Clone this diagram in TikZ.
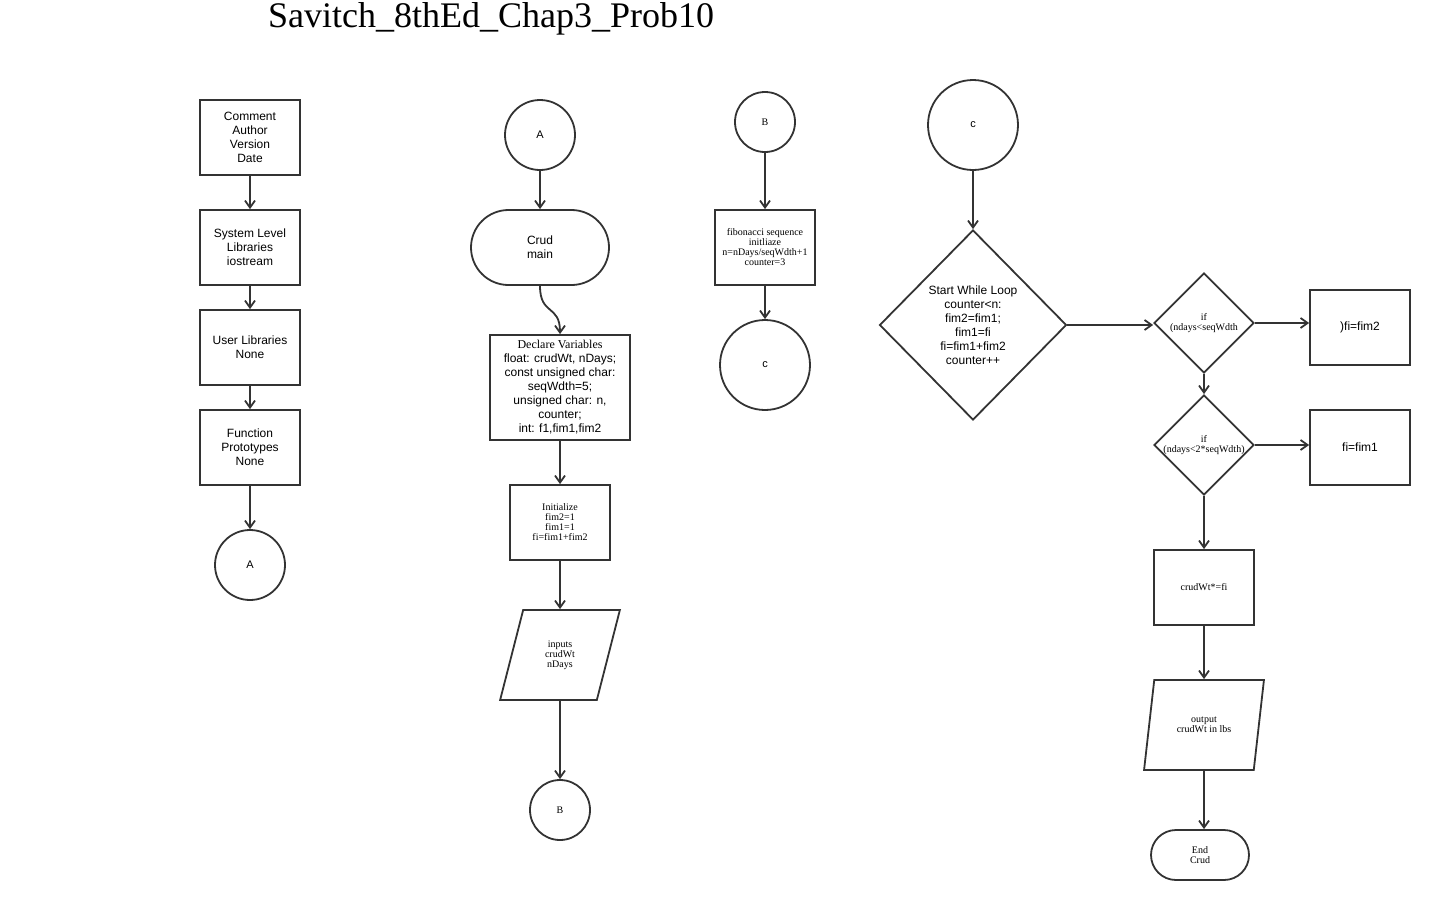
\documentclass[tikz,border=0pt]{standalone}
\usepackage{fontspec}
\setmainfont{Liberation Sans}
\newfontfamily\timesfont{Liberation Serif}
\usepackage{tikz}
\usetikzlibrary{shapes.geometric,shapes.misc,arrows.meta}
\colorlet{lineclr}{black!80}

\begin{document}
\begin{tikzpicture}[x=1pt,y=-1pt,line width=1.8pt,
  every node/.style={align=center,inner sep=1pt,font=\fontsize{12}{14}\selectfont},
  box/.style={rectangle,draw=lineclr,minimum width=100pt,minimum height=75pt},
  term/.style={rounded rectangle,draw=lineclr},
  io/.style={trapezium,trapezium left angle=72,trapezium right angle=108,
    trapezium stretches=true,draw=lineclr,minimum width=120pt,minimum height=90pt},
  dec/.style={diamond,draw=lineclr,inner sep=0pt},
  conn/.style={circle,draw=lineclr,minimum size=70pt},
  ser/.style={font=\timesfont\fontsize{10}{10}\selectfont},
  arr/.style={draw=lineclr,-{Straight Barb[length=7pt,width=10pt]}}]
  \useasboundingbox (0,0) rectangle (1430,900);
  \node[anchor=base,font=\timesfont\fontsize{36}{40}\selectfont] (title) at (491,27)
    {Savitch\_8thEd\_Chap3\_Prob10};

  \node[box] (hdr)    at (250,137.5) {Comment\\Author\\Version\\Date};
  \node[box] (syslib) at (250,247.5) {System Level\\Libraries\\iostream};
  \node[box] (usrlib) at (250,347.5) {User Libraries\\None};
  \node[box] (proto)  at (250,447.5) {Function\\Prototypes\\None};
  \node[conn,font=\fontsize{11}{12}\selectfont] (a1) at (250,565) {A};
  \draw[arr] (hdr)--(syslib); \draw[arr] (syslib)--(usrlib);
  \draw[arr] (usrlib)--(proto); \draw[arr] (proto)--(a1);

  \node[conn,font=\fontsize{11}{12}\selectfont] (a2) at (540,135) {A};
  \node[term,minimum width=140pt,minimum height=75pt] (crud) at (540,247.5) {Crud\\main};
  \node[box,minimum width=140pt,minimum height=105pt] (decl) at (560,387.5)
    {{\timesfont Declare Variables}\\float: crudWt, nDays;\\const unsigned char:\\seqWdth=5;\\unsigned char: n,\\counter;\\int: f1,fim1,fim2};
  \node[box,ser] (init) at (560,522.5) {Initialize\\fim2=1\\fim1=1\\fi=fim1+fim2};
  \node[io,ser]  (inp)  at (560,655) {inputs\\crudWt\\nDays};
  \node[conn,ser,minimum size=60pt] (b1) at (560,810) {B};
  \draw[arr] (a2)--(crud);
  \draw[arr] (crud.south) .. controls +(0,30) and +(0,-30) .. (decl.north);
  \draw[arr] (decl)--(init); \draw[arr] (init)--(inp); \draw[arr] (inp)--(b1);

  \node[conn,ser,minimum size=60pt] (b2) at (765,122) {B};
  \node[box,ser] (fib) at (765,247.5) {fibonacci sequence\\initliaze\\n=nDays/seqWdth+1\\counter=3};
  \node[conn,minimum size=90pt,font=\fontsize{11}{12}\selectfont] (c1) at (765,365) {c};
  \draw[arr] (b2)--(fib); \draw[arr] (fib)--(c1);

  \node[conn,minimum size=90pt,font=\fontsize{11}{12}\selectfont] (c2) at (973,125) {c};
  \node[dec,minimum width=187pt,minimum height=190pt] (loop) at (973,325) {};
  \node (looptxt) at (loop) {Start While Loop\\counter<n:\\fim2=fim1;\\fim1=fi\\fi=fim1+fim2\\counter++};
  \node[dec,minimum width=100pt,minimum height=100pt] (if1) at (1204,323) {};
  \node[ser] (if1txt) at (if1) {if\\(ndays<seqWdth};
  \node[box] (fi2) at (1360,327.5) {)fi=fim2};
  \node[dec,minimum width=100pt,minimum height=100pt] (if2) at (1204,445) {};
  \node[ser] (if2txt) at (if2) {if\\(ndays<2*seqWdth)};
  \node[box] (fi1) at (1360,447.5) {fi=fim1};
  \node[box,ser] (mult) at (1204,587.5) {crudWt*=fi};
  \node[io,ser] (outp) at (1204,725) {output\\crudWt in lbs};
  \node[term,ser,minimum width=100pt,minimum height=50pt] (endc) at (1200,855) {End\\Crud};
  \draw[arr] (c2)--(loop);
  \draw[arr] (loop.east)--(loop.east -| if1.west);
  \draw[arr] (if1.east)--(if1.east -| fi2.west);
  \draw[arr] (if1.south)--(if2.north);
  \draw[arr] (if2.east)--(if2.east -| fi1.west);
  \draw[arr] (if2.south)--(mult.north);
  \draw[arr] (mult)--(outp);
  \draw[arr] (outp.south)--(outp.south |- endc.north);
\end{tikzpicture}
\end{document}
